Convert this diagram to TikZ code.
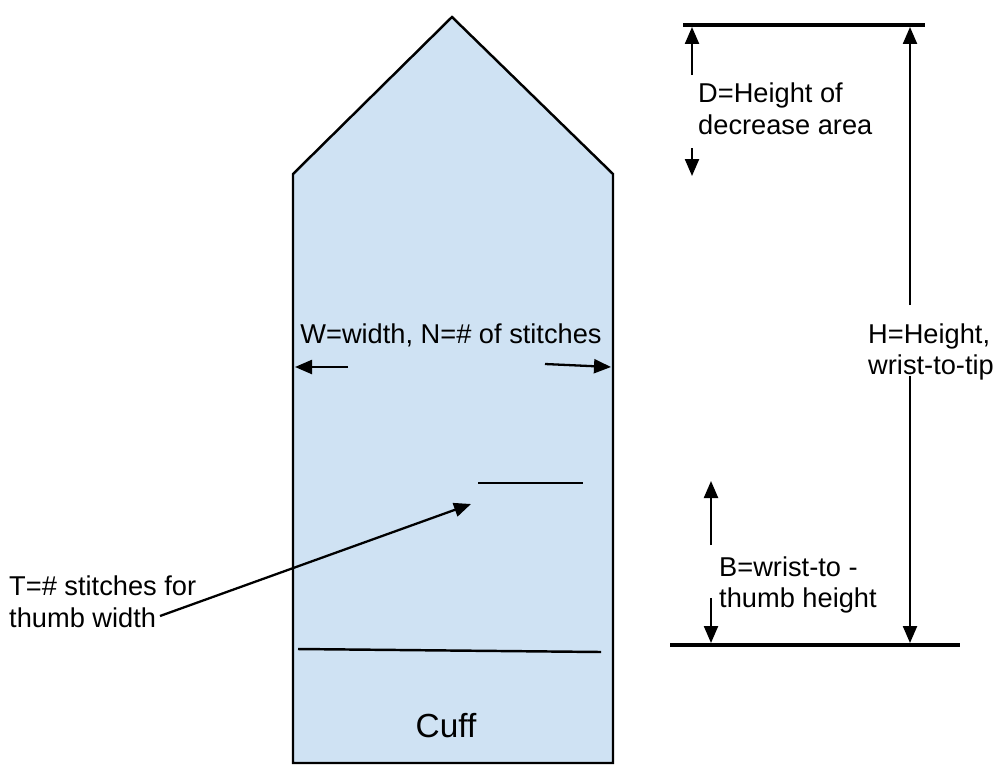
\documentclass[tikz,border=0pt]{standalone}
\usepackage{fontspec}
\setmainfont{Liberation Sans}
\usetikzlibrary{arrows.meta}
\definecolor{mittenBlue}{HTML}{CFE2F3}

\begin{document}
\begin{tikzpicture}[x=0.02cm, y=-0.02cm, line width=1.4pt,
    every node/.style={font=\fontsize{15.5}{18}\selectfont, inner sep=0pt},
    dimarrow/.style={line width=1.3pt, -{Triangle[length=3.4mm,width=2.8mm]}},
    rule/.style={line width=1.8pt}]
  \useasboundingbox (0,0) rectangle (996,774);
  % mitten outline
  \coordinate (tip) at (452,17);
  \coordinate (shl) at (293,174);
  \coordinate (shr) at (613,174);
  \coordinate (bl) at (293,763);
  \coordinate (br) at (613,763);
  \draw[fill=mittenBlue] (bl) -- (shl) -- (tip) -- (shr) -- (br) -- cycle;
  % cuff and thumb lines
  \coordinate (cuffl) at (298,649);
  \coordinate (cuffr) at (601,652);
  \draw (cuffl) -- (cuffr);
  \node[font=\fontsize{19}{22}\selectfont] (cuff) at (446,726) {Cuff};
  \coordinate (thumbl) at (478,483);
  \coordinate (thumbr) at (583,483);
  \draw (thumbl) -- (thumbr);
  % width label
  \node (width) at (451,335) {W=width, N=\# of stitches};
  \coordinate (wlt) at (348,367); \coordinate (wlh) at (295,367);
  \coordinate (wrt) at (545,364); \coordinate (wrh) at (611,367);
  \draw[dimarrow] (wlt) -- (wlh);
  \draw[dimarrow] (wrt) -- (wrh);
  % thumb label
  \node[anchor=west, align=left] (thumb) at (8,602) {T=\# stitches for\\thumb width};
  \coordinate (tt) at (160,616); \coordinate (th) at (471,504);
  \draw[dimarrow] (tt) -- (th);
  % height rules
  \coordinate (topl) at (683,25); \coordinate (topr) at (925,25);
  \coordinate (botl) at (670,645); \coordinate (botr) at (960,645);
  \draw[rule] (topl) -- (topr);
  \draw[rule] (botl) -- (botr);
  % D
  \node[anchor=west, align=left] (dlab) at (697,109) {D=Height of\\decrease area};
  \coordinate (dut) at (692,75); \coordinate (duh) at (692,27);
  \coordinate (ddt) at (692,148); \coordinate (ddh) at (692,176);
  \draw[dimarrow] (dut) -- (duh);
  \draw[dimarrow] (ddt) -- (ddh);
  % H
  \node[anchor=west, align=left] (hlab) at (867,352) {H=Height,\\wrist-to-tip};
  \coordinate (hut) at (910,305); \coordinate (huh) at (910,27);
  \coordinate (hdt) at (910,376); \coordinate (hdh) at (910,643);
  \draw[dimarrow] (hut) -- (huh);
  \draw[dimarrow] (hdt) -- (hdh);
  % B
  \node[anchor=west, align=left] (blab) at (718,585) {B=wrist-to -\\thumb height};
  \coordinate (but) at (711,545); \coordinate (buh) at (711,481);
  \coordinate (bdt) at (711,598); \coordinate (bdh) at (711,643);
  \draw[dimarrow] (but) -- (buh);
  \draw[dimarrow] (bdt) -- (bdh);
\end{tikzpicture}
\end{document}
